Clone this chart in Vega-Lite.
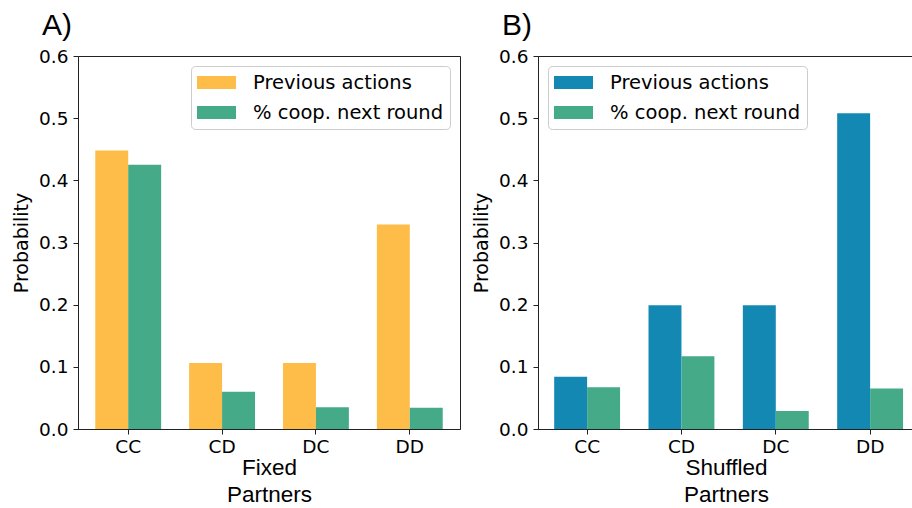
{
  "$schema": "https://vega.github.io/schema/vega-lite/v6.json",
  "padding": {"left": 12, "top": 10, "right": 0, "bottom": 0},
  "background": "white",
  "data": {
    "values": [
      {"panel": "A", "pair": "CC", "series": "Previous actions", "value": 0.448},
      {"panel": "A", "pair": "CC", "series": "% coop. next round", "value": 0.425},
      {"panel": "A", "pair": "CD", "series": "Previous actions", "value": 0.106},
      {"panel": "A", "pair": "CD", "series": "% coop. next round", "value": 0.060},
      {"panel": "A", "pair": "DC", "series": "Previous actions", "value": 0.106},
      {"panel": "A", "pair": "DC", "series": "% coop. next round", "value": 0.035},
      {"panel": "A", "pair": "DD", "series": "Previous actions", "value": 0.329},
      {"panel": "A", "pair": "DD", "series": "% coop. next round", "value": 0.034},
      {"panel": "B", "pair": "CC", "series": "Previous actions", "value": 0.084},
      {"panel": "B", "pair": "CC", "series": "% coop. next round", "value": 0.067},
      {"panel": "B", "pair": "CD", "series": "Previous actions", "value": 0.199},
      {"panel": "B", "pair": "CD", "series": "% coop. next round", "value": 0.117},
      {"panel": "B", "pair": "DC", "series": "Previous actions", "value": 0.199},
      {"panel": "B", "pair": "DC", "series": "% coop. next round", "value": 0.029},
      {"panel": "B", "pair": "DD", "series": "Previous actions", "value": 0.508},
      {"panel": "B", "pair": "DD", "series": "% coop. next round", "value": 0.065}
    ]
  },
  "spacing": 11,
  "resolve": {"scale": {"color": "independent", "x": "independent", "y": "independent"}, "legend": {"color": "independent"}},
  "hconcat": [
    {
      "width": 382,
      "height": 373,
      "title": {"text": "A)", "anchor": "start", "frame": "group", "dx": -36, "offset": -18, "baseline": "alphabetic", "fontSize": 30, "font": "Liberation Sans", "fontWeight": "normal", "color": "black"},
      "transform": [{"filter": "datum.panel == 'A'"}],
      "mark": {"type": "bar"},
      "encoding": {
        "x": {"field": "pair", "type": "nominal", "sort": ["CC", "CD", "DC", "DD"],
              "scale": {"paddingInner": 0.298, "paddingOuter": 0.184},
              "axis": {"title": ["Fixed", "Partners"], "labelAngle": 0}},
        "xOffset": {"field": "series", "type": "nominal", "sort": ["Previous actions", "% coop. next round"], "scale": {"paddingInner": 0, "paddingOuter": 0}},
        "y": {"field": "value", "type": "quantitative", "scale": {"domain": [0, 0.6], "nice": false},
              "axis": {"title": "Probability", "values": [0, 0.1, 0.2, 0.3, 0.4, 0.5, 0.6], "format": ".1f"}},
        "color": {"field": "series", "type": "nominal", "sort": ["Previous actions", "% coop. next round"],
                  "scale": {"range": ["#FDBD48", "#44AA88"]},
                  "legend": {"orient": "top-right"}}
      }
    },
    {
      "width": 376,
      "height": 373,
      "title": {"text": "B)", "anchor": "start", "frame": "group", "dx": -36, "offset": -18, "baseline": "alphabetic", "fontSize": 30, "font": "Liberation Sans", "fontWeight": "normal", "color": "black"},
      "transform": [{"filter": "datum.panel == 'B'"}],
      "mark": {"type": "bar"},
      "encoding": {
        "x": {"field": "pair", "type": "nominal", "sort": ["CC", "CD", "DC", "DD"],
              "scale": {"paddingInner": 0.3, "paddingOuter": 0.143, "align": 0.6},
              "axis": {"title": ["Shuffled", "Partners"], "labelAngle": 0}},
        "xOffset": {"field": "series", "type": "nominal", "sort": ["Previous actions", "% coop. next round"], "scale": {"paddingInner": 0, "paddingOuter": 0}},
        "y": {"field": "value", "type": "quantitative", "scale": {"domain": [0, 0.6], "nice": false},
              "axis": {"title": "Probability", "values": [0, 0.1, 0.2, 0.3, 0.4, 0.5, 0.6], "format": ".1f"}},
        "color": {"field": "series", "type": "nominal", "sort": ["Previous actions", "% coop. next round"],
                  "scale": {"range": ["#1288B3", "#44AA88"]},
                  "legend": {"orient": "top-left"}}
      }
    }
  ],
  "config": {
    "view": {"stroke": "#222", "strokeWidth": 1},
    "axis": {
      "grid": false,
      "domainColor": "#222",
      "tickColor": "#222",
      "tickSize": 5,
      "labelPadding": 4,
      "labelFont": "DejaVu Sans",
      "labelFontSize": 18.5,
      "labelColor": "black",
      "titleColor": "black",
      "titleFontWeight": "normal"
    },
    "axisY": {"titleFont": "DejaVu Sans", "titleFontSize": 19, "titlePadding": 7, "labelPadding": 5},
    "axisX": {"titleFont": "Liberation Sans", "titleFontSize": 22.5, "titleLineHeight": 26.5, "titlePadding": 1, "labelPadding": 3},
    "legend": {
      "title": null,
      "offset": 10,
      "padding": 6,
      "strokeColor": "#cccccc",
      "fillColor": "white",
      "cornerRadius": 4,
      "labelFont": "DejaVu Sans",
      "labelFontSize": 19.5,
      "labelLimit": 400,
      "labelColor": "black",
      "labelOffset": 17,
      "symbolType": "M-1,-0.333L1,-0.333L1,0.333L-1,0.333Z",
      "symbolSize": 1521,
      "symbolStrokeWidth": 0,
      "symbolOpacity": 1,
      "clipHeight": 21,
      "rowPadding": 9
    }
  }
}
